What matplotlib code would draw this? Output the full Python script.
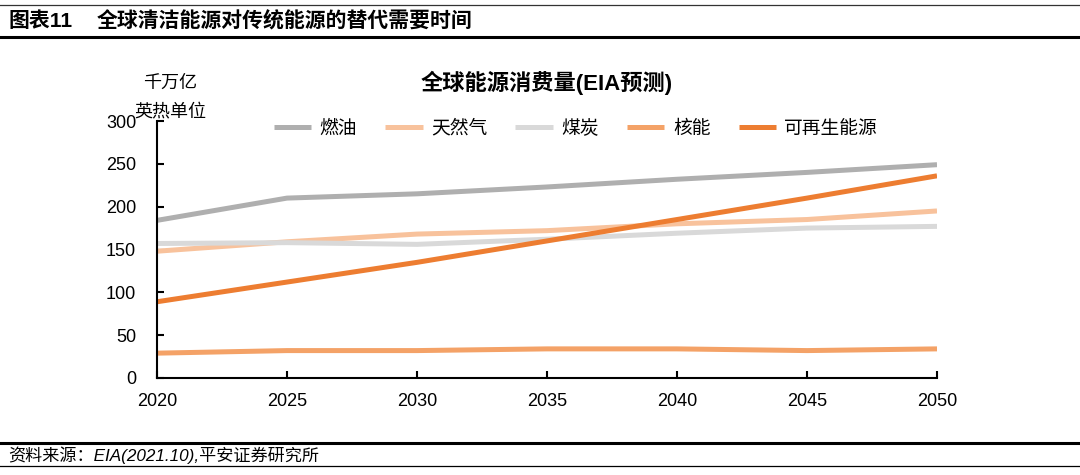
import matplotlib
matplotlib.use("Agg")
import matplotlib.pyplot as plt
from matplotlib.lines import Line2D

plt.rcParams['font.family'] = ['Liberation Sans', 'Noto Sans CJK SC', 'DejaVu Sans']

# Data
years = [2020, 2025, 2030, 2035, 2040, 2045, 2050]
oil = [184, 210, 215, 223, 232, 240, 249]
gas = [148, 159, 168, 172, 180, 185, 195]
coal = [157, 158, 156, 162, 169, 175, 177]
nuclear = [29, 32, 32, 34, 34, 32, 34]
renewable = [89, 112, 135, 160, 185, 210, 236]

series_names = ["燃油", "天然气", "煤炭", "核能", "可再生能源"]
series_vals = [oil, gas, coal, nuclear, renewable]
colors = ["#AFAFAF", "#F8C29C", "#D9D9D9", "#F4A267", "#ED7D31"]

fig = plt.figure(figsize=(10.8, 4.75), dpi=100)
ax = fig.add_axes([157 / 1080, 1 - 378 / 475, 780 / 1080, 257 / 475])

for name, vals, c in zip(series_names, series_vals, colors):
    ax.plot(years, vals, color=c, linewidth=3.6, label=name, solid_capstyle='butt')

ax.set_xlim(2020, 2050)
ax.set_ylim(0, 300)
ax.set_xticks(years)
ax.set_yticks(range(0, 301, 50))
ax.tick_params(direction='in', length=5, width=1.5, labelsize=13, colors='black')
ax.tick_params(axis='x', pad=11)
ax.tick_params(axis='y', pad=15)
for s in ['top', 'right']:
    ax.spines[s].set_visible(False)
for s in ['left', 'bottom']:
    ax.spines[s].set_linewidth(1.5)

# legend sits a bit right of centre, like the reference
ax.legend(loc='upper center', bbox_to_anchor=(0.537, 1.07), ncol=5, frameon=False,
          fontsize=13.5, handlelength=2.0, columnspacing=1.5, handletextpad=0.45)

fig.text(547 / 1080, 1 - 83 / 475, "全球能源消费量(EIA预测)", fontsize=16, fontweight='bold',
         ha='center', va='center')
fig.text(170 / 1080, 1 - 83 / 475, "千万亿", fontsize=13, ha='center', va='center')
fig.text(170 / 1080, 1 - 112 / 475, "英热单位", fontsize=13, ha='center', va='center')

# header / footer
fig.add_artist(Line2D([0, 1], [1 - 5 / 475, 1 - 5 / 475], color='#333333', linewidth=0.9))
fig.add_artist(Line2D([0, 1], [1 - 37 / 475, 1 - 37 / 475], color='black', linewidth=2.2))
fig.text(8 / 1080, 1 - 21 / 475, "图表11", fontsize=15, fontweight='bold',
         ha='left', va='center')
fig.text(97 / 1080, 1 - 21 / 475, "全球清洁能源对传统能源的替代需要时间", fontsize=15,
         fontweight='bold', ha='left', va='center')
fig.add_artist(Line2D([0, 1], [1 - 443 / 475, 1 - 443 / 475], color='black', linewidth=2.2))
fig.add_artist(Line2D([0, 1], [1 - 466 / 475, 1 - 466 / 475], color='black', linewidth=0.9))
fig.text(8 / 1080, 1 - 455 / 475, "资料来源：EIA(2021.10),平安证券研究所", fontsize=12.3,
         style='italic', ha='left', va='center')

fig.savefig("out.png", dpi=100)
